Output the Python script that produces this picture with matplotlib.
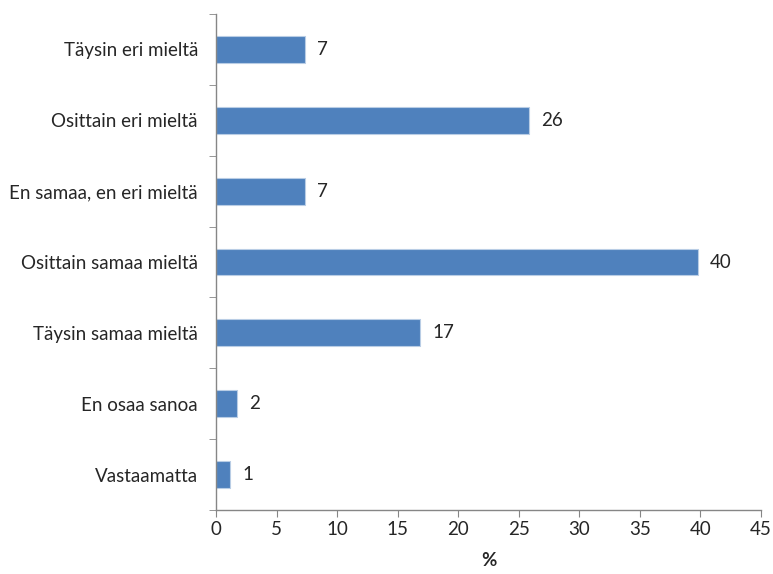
import matplotlib
matplotlib.use("Agg")
import matplotlib.pyplot as plt
import numpy as np

# Survey answers, share of respondents (%)
categories = [
    "Täysin eri mieltä",
    "Osittain eri mieltä",
    "En samaa, en eri mieltä",
    "Osittain samaa mieltä",
    "Täysin samaa mieltä",
    "En osaa sanoa",
    "Vastaamatta",
]
shares = [7.35, 25.85, 7.35, 39.8, 16.85, 1.75, 1.15]

BAR_COLOR = "#4F81BD"
EDGE_COLOR = "#B9CDE5"
AXIS_COLOR = "#868686"
TEXT_COLOR = "#262626"
FS = 13.5

plt.rcParams["font.family"] = ["Lato", "DejaVu Sans"]

fig = plt.figure(figsize=(7.73, 5.74), dpi=100)
ax = fig.add_axes([0.2794, 0.1115, 0.7051, 0.8641])

y = np.arange(len(categories))[::-1]
ax.barh(y, shares, height=0.38, color=BAR_COLOR, edgecolor=EDGE_COLOR, linewidth=0.8)

for yi, v in zip(y, shares):
    ax.text(v + 1.0, yi, f"{v:.0f}", va="center", ha="left",
            fontsize=FS, color=TEXT_COLOR)

ax.set_xlim(0, 45)
ax.set_ylim(-0.5, len(categories) - 0.5)
ax.set_xticks(np.arange(0, 46, 5))
ax.set_yticks(y)
ax.set_yticklabels(categories)
ax.set_yticks(np.arange(-0.5, len(categories), 1.0), minor=True)

ax.tick_params(axis="y", which="major", length=0, pad=13, labelsize=FS, labelcolor=TEXT_COLOR)
ax.tick_params(axis="y", which="minor", length=5, color=AXIS_COLOR, direction="out")
ax.tick_params(axis="x", length=5, color=AXIS_COLOR, direction="out", pad=3,
               labelsize=FS, labelcolor=TEXT_COLOR)

for side in ("top", "right"):
    ax.spines[side].set_visible(False)
for side in ("left", "bottom"):
    ax.spines[side].set_color(AXIS_COLOR)
    ax.spines[side].set_linewidth(1.0)

ax.set_xlabel("%", fontsize=FS, fontweight="bold", color=TEXT_COLOR, labelpad=10)

fig.savefig("out.png", dpi=100, facecolor="white")
